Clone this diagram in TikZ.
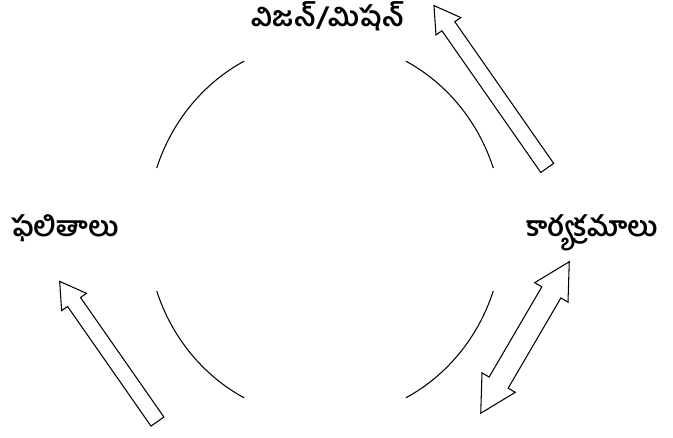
\documentclass[tikz,border=0pt]{standalone}
\usepackage{fontspec}
\newfontfamily\telugu[Script=Telugu]{Hind Guntur}
\usetikzlibrary{shapes.arrows,positioning}

\begin{document}
\begin{tikzpicture}[
    x=0.02cm, y=0.02cm,
    label/.style={font=\telugu\bfseries\fontsize{15.8}{18}\selectfont, inner sep=0pt, anchor=base},
    ring/.style={line width=0.6pt},
    bigarrow/.style={single arrow, draw=black, fill=white, line width=0.6pt, inner sep=0.147cm, single arrow head extend=0.145cm, single arrow tip angle=62},
    twoway/.style={double arrow, draw=black, fill=white, line width=0.6pt, inner sep=0.21cm, double arrow head extend=0.165cm, double arrow tip angle=57}
]
\useasboundingbox (0,0) rectangle (673,438);

% Labels around the cycle
\node[label] (vision) at (328, 411) {విజన్/మిషన్};
\node[label] (results) at (65, 201.5) {ఫలితాలు};
\node[label] (programs) at (592, 201.5) {కార్యక్రమాలు};

% Arcs of the cycle
\coordinate (hub) at (325, 208.5);
\draw[ring] (hub) ++(19:3.56cm and 3.78cm) arc[start angle=19, end angle=63, x radius=3.56cm, y radius=3.78cm];
\draw[ring] (hub) ++(117:3.56cm and 3.78cm) arc[start angle=117, end angle=161, x radius=3.56cm, y radius=3.78cm];
\draw[ring] (hub) ++(199:3.56cm and 3.78cm) arc[start angle=199, end angle=243, x radius=3.56cm, y radius=3.78cm];
\draw[ring] (hub) ++(297:3.56cm and 3.78cm) arc[start angle=297, end angle=341, x radius=3.56cm, y radius=3.78cm];

% Block arrows
\node[bigarrow, minimum height=3.96cm, rotate=124.9] (up) at (494.35, 345.85) {};
\node[bigarrow, minimum height=3.42cm, rotate=124.9] (back) at (112.3, 81.15) {};
\node[twoway, minimum height=3.51cm, rotate=59.7] (both) at (525, 100.5) {};

\end{tikzpicture}
\end{document}
